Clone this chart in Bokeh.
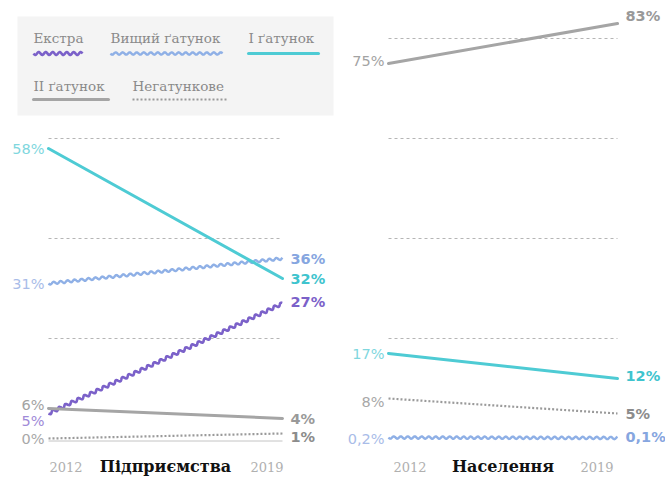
import numpy as np
from bokeh.plotting import figure
from bokeh.layouts import row
from bokeh.models import Range1d
from bokeh.core.properties import value
from bokeh.embed import file_html
from bokeh.resources import INLINE

# ---------------- data ----------------
years = [2012, 2019]
categories = ["Екстра", "Вищий ґатунок", "I ґатунок", "II ґатунок", "Негатункове"]
business_2012 = [5, 31, 58, 6, 0]
business_2019 = [27, 36, 32, 4, 1]
population_2012 = [None, 0.2, 17, 75, 8]
population_2019 = [None, 0.1, 12, 83, 5]
grid_business = [20, 40, 60]
grid_population = [20, 40, 60, 80]
panel_titles = ["Підприємства", "Населення"]

# ---------------- styles ----------------
styles = {
    "Екстра":        dict(color="#7b61c9", start="#a08ad8", end="#7b61c9", kind="wave", w=2.6, wl=7.0, amp=1.5),
    "Вищий ґатунок": dict(color="#8fb0e6", start="#a9bce8", end="#86a6e0", kind="wave", w=2.4, wl=7.0, amp=1.2),
    "I ґатунок":     dict(color="#4ecbd4", start="#7fd7de", end="#3fc4ce", kind="solid", w=3.0),
    "II ґатунок":    dict(color="#a5a5a5", start="#a3a3a3", end="#999999", kind="solid", w=3.0),
    "Негатункове":   dict(color="#9a9a9a", start="#a8a8a8", end="#8c8c8c", kind="dot", w=2.2),
}
# label nudges in px (positive = up) : (start, end)
nudge_business = {"Екстра": (-7, 2), "II ґатунок": (4, 0), "Негатункове": (0, -3)}
nudge_population = {"II ґатунок": (3, 8), "Негатункове": (-3, 0), "I ґатунок": (0, 3), "Вищий ґатунок": (-1, 1)}

NUM_FONT = "DejaVu Sans"
SERIF = "DejaVu Serif"

H = 479
PX_PER_PCT = 5.0
ZERO_PX = 438.0            # px of 0 %
Y1 = ZERO_PX / PX_PER_PCT
Y0 = Y1 - H / PX_PER_PCT

panels = [
    dict(width=340, origin=0, x_a=48, x_b=282, title=panel_titles[0],
         v0=business_2012, v1=business_2019, grid=grid_business, nudge=nudge_business),
    dict(width=325, origin=340, x_a=48, x_b=277, title=panel_titles[1],
         v0=population_2012, v1=population_2019, grid=grid_population, nudge=nudge_population),
]


def fmt(v):
    s = ("%g" % v).replace(".", ",")
    return s + "%"


def make_fig(pn):
    sx = (pn["x_b"] - pn["x_a"]) / (years[1] - years[0])
    x0 = years[0] - pn["x_a"] / sx
    x1 = x0 + pn["width"] / sx
    pn["sx"], pn["x0"] = sx, x0
    p = figure(width=pn["width"], height=H, x_range=Range1d(x0, x1), y_range=Range1d(Y0, Y1),
               output_backend="svg", toolbar_location=None, min_border=0,
               x_axis_location=None, y_axis_location=None)
    p.grid.visible = False
    p.outline_line_color = None
    p.background_fill_color = "white"
    p.border_fill_color = "white"
    return p


def to_px(pn, x, y):
    return (x - pn["x0"]) * pn["sx"], (Y1 - y) * PX_PER_PCT


def to_data(pn, px, py):
    return pn["x0"] + px / pn["sx"], Y1 - py / PX_PER_PCT


def img(pn, ix, iy):
    """page pixel -> data coords of panel (for layout decorations)"""
    return to_data(pn, ix - pn["origin"], iy)


def wavy_px(ax, ay, bx, by, wl, amp):
    L = np.hypot(bx - ax, by - ay)
    n = max(int(L / 0.8), 2)
    s = np.linspace(0, L, n)
    ux, uy = (bx - ax) / L, (by - ay) / L
    nx, ny = -uy, ux
    off = amp * np.sin(2 * np.pi * s / wl)
    return ax + ux * s + nx * off, ay + uy * s + ny * off


def draw_series(p, pn, xs, ys, st, img_coords=False):
    if img_coords:
        (dx0, dy0), (dx1, dy1) = img(pn, xs[0], ys[0]), img(pn, xs[1], ys[1])
    else:
        dx0, dy0, dx1, dy1 = xs[0], ys[0], xs[1], ys[1]
    if st["kind"] == "wave":
        ax, ay = to_px(pn, dx0, dy0)
        bx, by = to_px(pn, dx1, dy1)
        wx, wy = wavy_px(ax, ay, bx, by, st["wl"], st["amp"])
        dx, dy = to_data(pn, wx, wy)
        p.line(dx, dy, line_color=st["color"], line_width=st["w"], line_join="round")
    elif st["kind"] == "solid":
        p.line([dx0, dx1], [dy0, dy1], line_color=st["color"], line_width=st["w"], line_cap="round")
    else:
        p.line([dx0, dx1], [dy0, dy1], line_color=st["color"], line_width=st["w"], line_dash="2 2")


figs = []
for k, pn in enumerate(panels):
    p = make_fig(pn)
    # grid
    for g in pn["grid"]:
        p.line(years, [g, g], line_color="#b5b5b5", line_width=1, line_dash="3 3")
    if k == 0:
        p.line(years, [-0.5, -0.5], line_color="#c4c4c4", line_width=1)
    # series
    for i, c in enumerate(categories):
        a, b = pn["v0"][i], pn["v1"][i]
        if a is None:
            continue
        st = styles[c]
        draw_series(p, pn, years, [a, b], st)
        ns, ne = pn["nudge"].get(c, (0, 0))
        p.text([years[0]], [a + ns / PX_PER_PCT], text=[fmt(a)], text_align="right", text_baseline="middle",
               x_offset=-4, text_font=value(NUM_FONT), text_font_size="14.5px", text_color=st["start"])
        p.text([years[1]], [b + ne / PX_PER_PCT], text=[fmt(b)], text_align="left", text_baseline="middle",
               x_offset=8, text_font=value(NUM_FONT), text_font_size="14.5px", text_font_style="bold",
               text_color=st["end"])
    # axis labels
    ylab = -(28 / PX_PER_PCT)
    if k == 0:
        o0, o1 = 1, 1
    else:
        o0, o1 = 5, -4
    p.text([years[0]], [ylab], text=[str(years[0])], text_align="left", text_baseline="middle", x_offset=o0,
           text_font=value(SERIF), text_font_size="13px", text_color="#b0b0b0")
    p.text([years[1]], [ylab], text=[str(years[1])], text_align="right", text_baseline="middle", x_offset=o1,
           text_font=value(SERIF), text_font_size="13px", text_color="#b0b0b0")
    p.text([(years[0] + years[1]) / 2], [ylab], text=[pn["title"]], text_align="center", text_baseline="middle",
           text_font=value(SERIF), text_font_size="16px", text_font_style="bold", text_color="#111111")
    figs.append(p)

# ---------------- legend (left panel) ----------------
pL, pn = figs[0], panels[0]
(bl, bt), (br, bb) = img(pn, 17, 16), img(pn, 333, 115)
pL.quad(left=[bl], right=[br], top=[bt], bottom=[bb], fill_color="#f4f4f4", line_color=None)
legend_items = [  # (category, text x, text y, sample x0, sample x1, sample y) in page px
    ("Екстра", 33, 37, 33, 82, 53),
    ("Вищий ґатунок", 110, 37, 110, 222, 53),
    ("I ґатунок", 248, 37, 248, 318, 53),
    ("II ґатунок", 33, 85, 33, 108, 99),
    ("Негатункове", 132, 85, 132, 228, 99),
]
for c, tx, ty, sx0, sx1, sy in legend_items:
    st = styles[c]
    draw_series(pL, pn, [sx0, sx1], [sy, sy], st, img_coords=True)
    x, y = img(pn, tx, ty)
    pL.text([x], [y], text=[c], text_align="left", text_baseline="middle",
            text_font=value(SERIF), text_font_size="13.5px", text_color="#8a8a8a")

layout = row(*figs, spacing=0)
open("out.html", "w").write(file_html(layout, INLINE))
